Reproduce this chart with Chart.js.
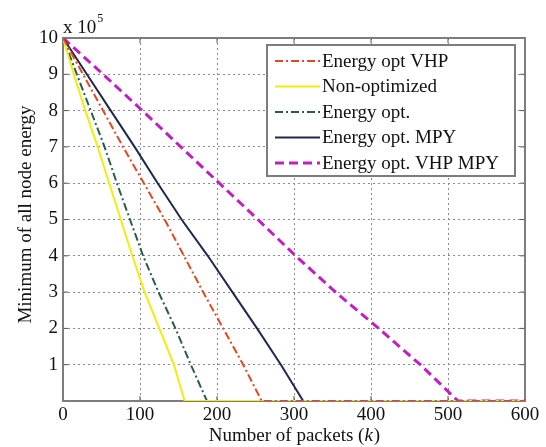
<!DOCTYPE html>
<html>
<head>
<meta charset="utf-8">
<script src="https://cdn.jsdelivr.net/npm/chart.js@4/dist/chart.umd.min.js"></script>
<style>
  html, body { margin: 0; padding: 0; background: #fff; }
  #wrap { width: 546px; height: 447px; }
</style>
</head>
<body>
<div id="wrap"><canvas id="myChart" width="546" height="447"></canvas></div>
<script>
// Series data (energy in units of 10^5)
var seriesNames = ["Energy opt VHP", "Non-optimized", "Energy opt.", "Energy opt. MPY", "Energy opt. VHP MPY"];
var energyLevels = [10, 9, 8, 7, 6, 5, 4, 3, 2, 1, 0, 0];
var packetsVhp = [0, 26, 52, 78, 105, 132, 157, 182, 208, 234, 258, 600];
var packetsNonOpt = [0, 14, 29, 45, 60, 75, 90, 106, 125, 144, 158, 600];
var packetsOpt = [0, 18, 36, 54, 70, 87, 104, 124, 146, 166, 187, 600];
var packetsMpy = [0, 31, 62, 93, 123, 154, 188, 220, 252, 283, 312, 600];
var packetsVhpMpy = [0, 52, 103, 153, 203, 253, 302, 354, 410, 464, 513, 600];
var xTicks = [0, 100, 200, 300, 400, 500, 600];
var yTicks = [1, 2, 3, 4, 5, 6, 7, 8, 9, 10];

var SERIF = "'Liberation Serif', 'Times New Roman', serif";
var ctx;
var myChart;

window.addEventListener("load", onLoad);

function onLoad() {
  initializeChart();
}

// pair up x and y arrays into points
function toPoints(xs, ys) {
  return xs.map(function (x, i) { return { x: x, y: ys[i] }; });
}

// Box round the axes and small MATLAB-style ticks pointing inward
var boxPlugin = {
  id: "box",
  beforeDatasetsDraw: function (chart) {
    var a = chart.chartArea;
    var c = chart.ctx;
    var xs = chart.scales.x, ys = chart.scales.y;
    c.save();
    c.strokeStyle = "#555";
    c.lineWidth = 1;
    xTicks.forEach(function (v) {
      var px = xs.getPixelForValue(v);
      c.beginPath();
      c.moveTo(px, a.bottom); c.lineTo(px, a.bottom - 5);
      c.moveTo(px, a.top); c.lineTo(px, a.top + 5);
      c.stroke();
    });
    yTicks.forEach(function (v) {
      var py = ys.getPixelForValue(v);
      c.beginPath();
      c.moveTo(a.left, py); c.lineTo(a.left + 5, py);
      c.moveTo(a.right, py); c.lineTo(a.right - 5, py);
      c.stroke();
    });
    c.strokeStyle = "#7d7d7d";
    c.lineWidth = 2;
    c.strokeRect(a.left, a.top, a.right - a.left, a.bottom - a.top);
    c.restore();
  },
  afterDraw: function (chart) {
    var a = chart.chartArea;
    var c = chart.ctx;
    c.save();
    c.fillStyle = "#111";
    c.font = "19px " + SERIF;
    // x axis title with italic k
    var t1 = "Number of packets (";
    var t2 = "k";
    var t3 = ")";
    var w1 = c.measureText(t1).width;
    c.font = "italic 19px " + SERIF;
    var w2 = c.measureText(t2).width;
    c.font = "19px " + SERIF;
    var w3 = c.measureText(t3).width;
    var cx = (a.left + a.right) / 2;
    var sx = cx - (w1 + w2 + w3) / 2;
    c.textBaseline = "middle";
    c.textAlign = "left";
    c.fillText(t1, sx, 436);
    c.font = "italic 19px " + SERIF;
    c.fillText(t2, sx + w1, 436);
    c.font = "19px " + SERIF;
    c.fillText(t3, sx + w1 + w2 + 1, 436);
    // y axis title
    c.save();
    c.translate(26, (a.top + a.bottom) / 2 - 5);
    c.rotate(-Math.PI / 2);
    c.textAlign = "center";
    c.fillText("Minimum of all node energy", 0, 0);
    c.restore();
    // exponent label
    c.textAlign = "left";
    c.textBaseline = "alphabetic";
    c.fillText("x 10", a.left, a.top - 5);
    var wx = c.measureText("x 10").width;
    c.font = "12px " + SERIF;
    c.fillText("5", a.left + wx + 1, a.top - 16);

    // legend box inside the axes, top right
    var lx = a.right - 258, ly = a.top + 7, lw = 248, lh = 131;
    c.fillStyle = "#fff";
    c.fillRect(lx, ly, lw, lh);
    c.strokeStyle = "#7d7d7d";
    c.lineWidth = 2;
    c.strokeRect(lx, ly, lw, lh);
    chart.data.datasets.forEach(function (ds, i) {
      var yy = ly + 16 + i * 25.5;
      c.save();
      c.strokeStyle = ds.borderColor;
      c.lineWidth = ds.borderWidth;
      c.setLineDash(ds.borderDash || []);
      c.beginPath();
      c.moveTo(lx + 8, yy);
      c.lineTo(lx + 53, yy);
      c.stroke();
      c.restore();
      c.fillStyle = "#111";
      c.font = "19px " + SERIF;
      c.textBaseline = "middle";
      c.fillText(ds.label, lx + 55, yy + 1);
    });
    c.restore();
  }
};

function initializeChart() {
  ctx = document.getElementById("myChart").getContext("2d");
  myChart = new Chart(ctx, {
    type: "line",
    data: {
      datasets: [
        { label: seriesNames[0], data: toPoints(packetsVhp, energyLevels),
          borderColor: "#e4481f", borderWidth: 2, borderDash: [8, 3, 2, 3] },
        { label: seriesNames[1], data: toPoints(packetsNonOpt, energyLevels),
          borderColor: "#f0ee10", borderWidth: 2 },
        { label: seriesNames[2], data: toPoints(packetsOpt, energyLevels),
          borderColor: "#2d5c4c", borderWidth: 2, borderDash: [8, 3, 2, 3] },
        { label: seriesNames[3], data: toPoints(packetsMpy, energyLevels),
          borderColor: "#1e2a4c", borderWidth: 2 },
        { label: seriesNames[4], data: toPoints(packetsVhpMpy, energyLevels),
          borderColor: "#c21fc2", borderWidth: 3, borderDash: [9, 5] }
      ]
    },
    options: {
      responsive: false,
      animation: false,
      layout: { padding: { top: 38, right: 21, left: 0, bottom: 0 } },
      elements: { point: { radius: 0 }, line: { tension: 0 } },
      plugins: {
        legend: { display: false },
        tooltip: { enabled: false }
      },
      scales: {
        x: {
          type: "linear",
          min: 0, max: 600,
          afterFit: function (s) { s.height = 46; },
          afterBuildTicks: function (s) { s.ticks = xTicks.map(function (v) { return { value: v }; }); },
          grid: { color: "#8a8a8a", lineWidth: 1, drawTicks: false },
          border: { display: false, dash: [2, 3] },
          ticks: { font: { family: SERIF, size: 19 }, color: "#111", padding: 3, maxRotation: 0 }
        },
        y: {
          type: "linear",
          min: 0, max: 10,
          afterFit: function (s) { s.width = 63; },
          afterBuildTicks: function (s) { s.ticks = [0].concat(yTicks).map(function (v) { return { value: v }; }); },
          grid: { color: "#8a8a8a", lineWidth: 1, drawTicks: false },
          border: { display: false, dash: [2, 3] },
          ticks: {
            font: { family: SERIF, size: 19 }, color: "#111", padding: 5,
            callback: function (v) { return v === 0 ? "" : v; }
          }
        }
      }
    },
    plugins: [boxPlugin]
  });
}
</script>
</body>
</html>
